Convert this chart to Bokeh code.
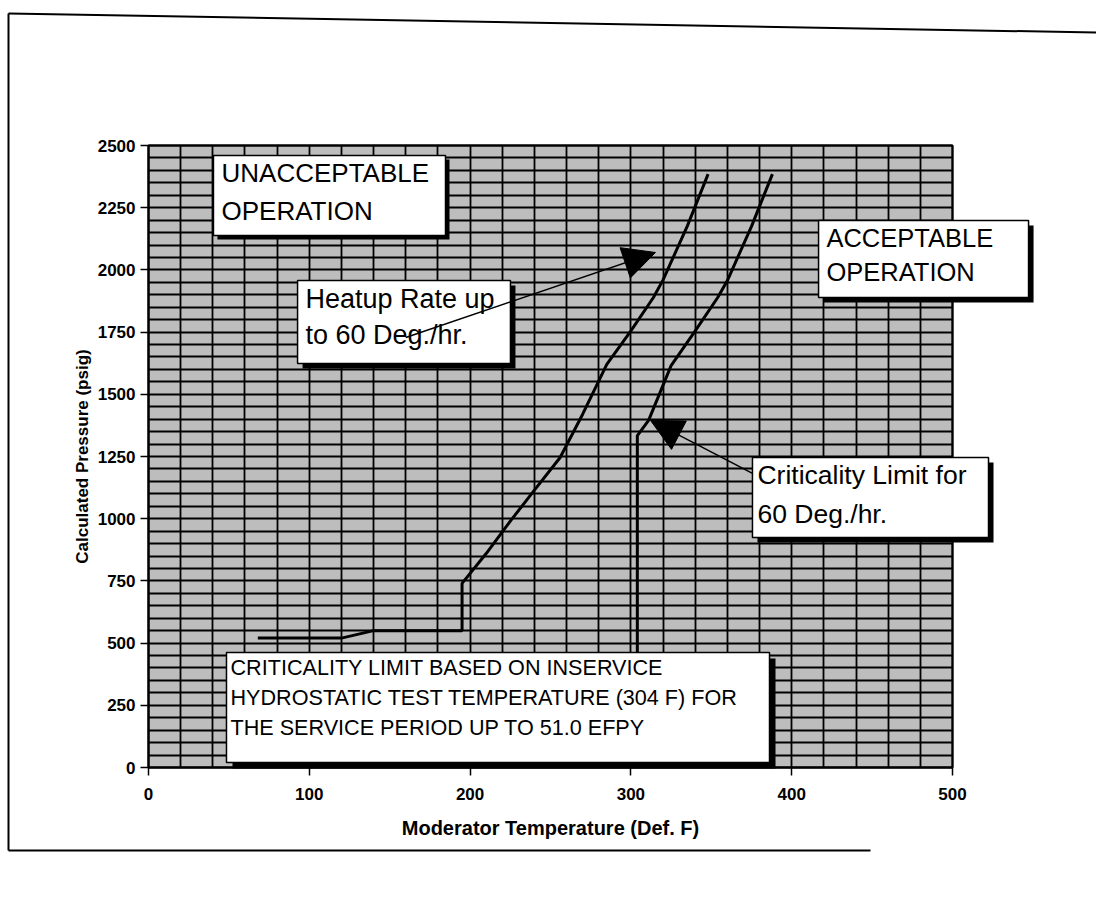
from bokeh.plotting import figure
from bokeh.models import (BoxAnnotation, Label, Arrow, NormalHead, SingleIntervalTicker,
                          FixedTicker, PolyAnnotation, Range1d)
from bokeh.embed import file_html
from bokeh.resources import INLINE

# ---- data ----
heatup_temp = [68, 120, 140, 195, 195, 210, 225, 240, 256, 270, 285, 300, 314, 320, 335, 348]
heatup_press = [520, 520, 550, 550, 740, 860, 990, 1115, 1246, 1420, 1620, 1755, 1889, 1960, 2175, 2385]

crit_temp = [304, 304, 311, 325, 340, 354, 360, 375, 388]
crit_press = [0, 1334, 1395, 1615, 1755, 1889, 1957, 2175, 2385]

x_ticks = [0, 100, 200, 300, 400, 500]
y_ticks = [0, 250, 500, 750, 1000, 1250, 1500, 1750, 2000, 2250, 2500]

FONT = "Liberation Sans"
W, H = 1096, 901
# plot area: x 0..500 -> px 148..952, y 0..2500 -> px 767..145
SX = 804 / 500.0
SY = 622 / 2500.0
x0 = -148 / SX
x1 = x0 + W / SX
y1 = 2500 + 145 / SY
y0 = -(H - 767) / SY

p = figure(width=W, height=H, output_backend="svg", toolbar_location=None,
           x_range=Range1d(x0, x1), y_range=Range1d(y0, y1), min_border=0)

p.background_fill_color = "white"
p.border_fill_color = "white"
p.outline_line_color = None

# grey plotting area
p.add_layout(BoxAnnotation(left=0, right=500, bottom=0, top=2500, fill_color="#bdbdbd",
                           fill_alpha=1, line_alpha=0, level="image"))

# grid
p.xgrid.ticker = SingleIntervalTicker(interval=20)
p.ygrid.ticker = SingleIntervalTicker(interval=50)
p.xgrid.bounds = (0, 500)
p.ygrid.bounds = (0, 2500)
p.xgrid.cross_bounds = (0, 2500)
p.ygrid.cross_bounds = (0, 500)
p.xgrid.grid_line_color = "black"
p.ygrid.grid_line_color = "black"
p.xgrid.grid_line_width = 1.8
p.ygrid.grid_line_width = 2
p.xgrid.grid_line_alpha = 1
p.ygrid.grid_line_alpha = 1

# outline of plotting area
p.add_layout(BoxAnnotation(left=0, right=500, bottom=0, top=2500, fill_alpha=0,
                           line_color="black", line_width=2, line_alpha=1, level="underlay"))

# axes
p.xaxis.ticker = FixedTicker(ticks=x_ticks)
p.yaxis.ticker = FixedTicker(ticks=y_ticks)
p.xaxis.fixed_location = 0
p.yaxis.fixed_location = 0
p.xaxis.bounds = (0, 500)
p.yaxis.bounds = (0, 2500)
for ax in (p.xaxis[0], p.yaxis[0]):
    ax.major_tick_out = 8
    ax.major_tick_in = 0
    ax.minor_tick_out = 0
    ax.minor_tick_in = 0
    ax.axis_line_color = "black"
    ax.axis_line_width = 1.5
    ax.major_tick_line_color = "black"
    ax.major_tick_line_width = 1.5
    ax.major_label_text_font = FONT
    ax.major_label_text_font_style = "bold"
    ax.major_label_text_font_size = "17px"
    ax.major_label_text_color = "black"
    ax.axis_label_text_font = FONT
    ax.axis_label_text_font_style = "bold"
    ax.axis_label_text_color = "black"

p.xaxis.axis_label = "Moderator Temperature (Def. F)"
p.xaxis.axis_label_text_font_size = "20px"
p.xaxis.major_label_standoff = 12
p.xaxis.axis_label_standoff = 14
p.yaxis.axis_label = "Calculated Pressure (psig)"
p.yaxis.axis_label_text_font_size = "17px"
p.yaxis.major_label_standoff = 5
p.yaxis.axis_label_standoff = 3

# curves
p.line(heatup_temp, heatup_press, line_color="black", line_width=3)
p.line(crit_temp, crit_press, line_color="black", line_width=3)


def dx(px):
    return px / SX


def dy(px):
    return px / SY


def add_box(left, right, top, bottom, shadow):
    p.add_layout(BoxAnnotation(left=left + dx(shadow), right=right + dx(shadow),
                               top=top - dy(shadow), bottom=bottom - dy(shadow),
                               fill_color="black", fill_alpha=1, line_alpha=0))
    p.add_layout(BoxAnnotation(left=left, right=right, top=top, bottom=bottom,
                               fill_color="white", fill_alpha=1,
                               line_color="black", line_width=1.5, line_alpha=1))


def add_text(x, y, text, size, lh):
    p.add_layout(Label(x=x, y=y, text=text, text_font=FONT, text_font_size=size,
                       text_color="black", text_align="left", text_baseline="top",
                       text_line_height=lh))


add_box(40.4, 184.7, 2460, 2138, 4)
add_text(45.4, 2448, "UNACCEPTABLE\nOPERATION", "26px", 1.25)

add_box(92.7, 225.1, 1957, 1624, 5)
add_text(97.6, 1945, "Heatup Rate up\nto 60 Deg./hr.", "27px", 1.2)

add_box(416.7, 547.3, 2199, 1889, 5)
add_text(421.6, 2185, "ACCEPTABLE\nOPERATION", "25.5px", 1.22)

add_box(375.6, 522.4, 1246, 924, 5)
add_text(378.7, 1236, "Criticality Limit for\n60 Deg./hr.", "26.5px", 1.3)

add_box(48.5, 386.2, 462, 20, 6)
add_text(51.0, 454, "CRITICALITY LIMIT BASED ON INSERVICE\nHYDROSTATIC TEST TEMPERATURE (304 F) FOR\nTHE SERVICE PERIOD UP TO 51.0 EFPY", "21.6px", 1.2)

# arrows
p.add_layout(Arrow(x_start=160.0, y_start=1728, x_end=315.3, y_end=2070,
                   line_color="black", line_width=1.5,
                   end=NormalHead(size=32, fill_color="black", line_color="black")))
p.add_layout(Arrow(x_start=375.6, y_start=1182, x_end=312.2, y_end=1395,
                   line_color="black", line_width=1.5,
                   end=NormalHead(size=32, fill_color="black", line_color="black")))

# page frame lines of the scanned sheet
for xs, ys in (([8, 8], [13, 850]), ([8, 1096], [13, 32]), ([8, 870], [850, 850])):
    p.add_layout(PolyAnnotation(xs=xs, ys=ys, xs_units="canvas", ys_units="canvas",
                                fill_alpha=0, line_color="black", line_alpha=1,
                                line_width=2))

open("out.html", "w").write(file_html(p, INLINE))
